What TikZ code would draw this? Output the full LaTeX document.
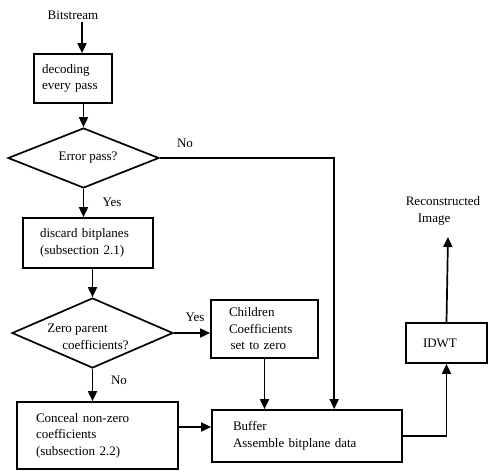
\documentclass[tikz,border=0pt]{standalone}
\usepackage{fontspec}
\setmainfont{Liberation Serif}
\usetikzlibrary{arrows.meta,shapes.geometric}
\begin{document}
\begin{tikzpicture}[x=1pt,y=-1pt,line width=1.7pt,
  every node/.style={font=\fontsize{13}{16.5}\selectfont},
  box/.style={draw,rectangle,inner sep=0pt,align=left},
  dia/.style={draw,diamond,inner sep=0pt},
  txt/.style={inner sep=0pt,align=left},
  arr/.style={-{Triangle[length=10pt,width=9pt]}}]
\useasboundingbox (0,0) rectangle (489,471);
% nodes
\node[txt] (bits) at (73,15) {Bitstream};
\node[box,minimum width=78pt,minimum height=49pt,text width=62pt] (dec) at (73,78.5) {decoding\\every pass};
\node[dia,minimum width=151pt,minimum height=60pt] (d1) at (83.5,158) {};
\node[txt] (d1t) at (88,158) {Error pass?};
\node[box,minimum width=130pt,minimum height=50pt,text width=96pt] (disc) at (88,243) {discard bitplanes\\(subsection 2.1)};
\node[dia,minimum width=161pt,minimum height=70pt] (d2) at (92.5,333) {};
\node[txt] (d2t) at (88,337) {Zero parent\\\hspace{15pt}coefficients?};
\node[box,minimum width=107pt,minimum height=58pt,text width=71pt] (child) at (264.5,329) {Children\\Coefficients\\\hspace{1.5pt}set to zero};
\node[box,minimum width=161pt,minimum height=67pt,text width=123pt] (conc) at (97.5,435.5) {Conceal non-zero\\coefficients\\(subsection 2.2)};
\node[box,minimum width=190pt,minimum height=52pt,text width=148pt] (buf) at (307,436) {Buffer\\Assemble bitplane data};
\node[box,minimum width=81pt,minimum height=40pt,text width=47pt] (idwt) at (446.5,343) {IDWT};
\node[txt] (rec) at (443,211) {Reconstructed\\\hspace{12pt}Image};
\coordinate (out) at (448,237);
% labels
\node[txt] (no1) at (185,143) {No};
\node[txt] (yes1) at (112,202) {Yes};
\node[txt] (yes2) at (195,317) {Yes};
\node[txt] (no2) at (119,380) {No};
% connectors
\draw[arr] ([xshift=9pt,yshift=-2pt]bits.south) -- ([xshift=9pt]bits.south |- dec.north);
\draw[arr] (dec.south -| d1.north) -- (d1.north);
\draw[arr] (d1.south) -- (d1.south |- disc.north);
\draw[arr] (disc.south -| d2.north) -- (d2.north);
\draw[arr] (d2.south) -- (d2.south |- conc.north);
\draw[arr] (d2.east) -- (d2.east -| child.west);
\draw[arr] (d1.east) -| ([xshift=123pt]buf.north west);
\draw[arr] (child.south) -- (child.south |- buf.north);
\draw[arr] ([yshift=8.5pt]conc.east) -- ([yshift=8.5pt]conc.east -| buf.west);
\draw[arr] (buf.east) -| (idwt.south);
\draw[arr] (idwt.north) -- (out);
\end{tikzpicture}
\end{document}
